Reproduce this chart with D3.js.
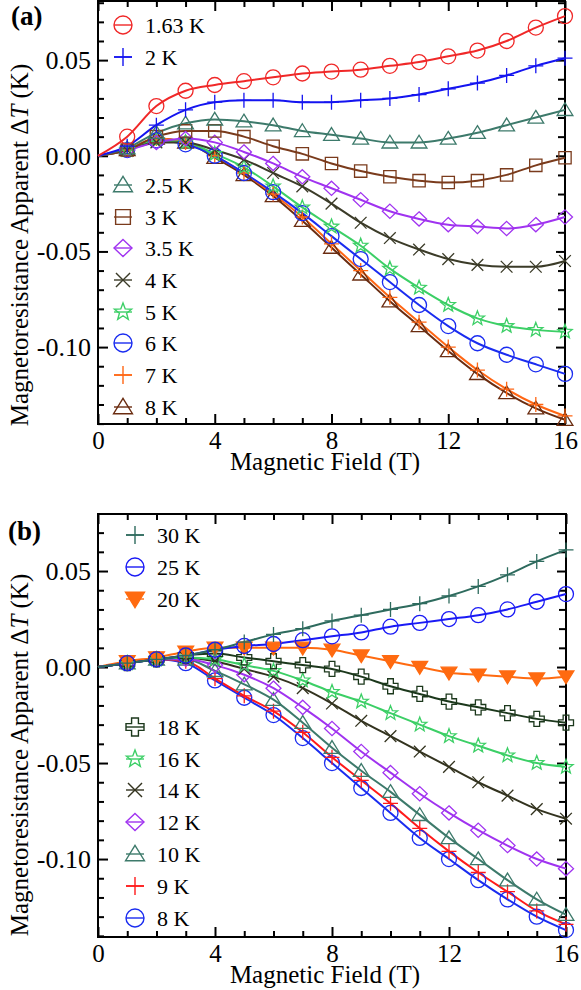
<!DOCTYPE html>
<html><head><meta charset="utf-8">
<script src="https://cdn.jsdelivr.net/npm/d3@7"></script>
<style>body{margin:0;background:#fff}svg{display:block}</style>
</head><body><svg id="c" width="581" height="990"></svg>
<script>
// ---------- DATA ----------
const fieldT = [0,1,2,3,4,5,6,7,8,9,10,11,12,13,14,15,16];
const xTickLabels = [0,4,8,12,16];
const yTickLabels = [-0.10,-0.05,0.00,0.05];

// panel (a)
const topNames = ["1.63 K","2 K","2.5 K","3 K","3.5 K","4 K","5 K","6 K","7 K","8 K"];
const a163K = [0,0.010,0.026,0.034,0.037,0.039,0.041,0.043,0.044,0.045,0.047,0.049,0.052,0.055,0.060,0.067,0.073];
const a2K   = [0,0.005,0.016,0.024,0.028,0.029,0.029,0.028,0.028,0.029,0.030,0.032,0.035,0.038,0.042,0.047,0.051];
const a25K  = [0,0.004,0.012,0.017,0.019,0.018,0.016,0.013,0.011,0.009,0.007,0.007,0.009,0.012,0.016,0.020,0.024];
const a3K   = [0,0.003,0.010,0.013,0.013,0.010,0.005,0.001,-0.004,-0.008,-0.011,-0.013,-0.014,-0.013,-0.010,-0.005,-0.001];
const a35K  = [0,0.003,0.007,0.009,0.007,0.002,-0.004,-0.011,-0.017,-0.023,-0.029,-0.033,-0.036,-0.037,-0.038,-0.036,-0.032];
const a4K   = [0,0.003,0.007,0.007,0.003,-0.002,-0.009,-0.016,-0.025,-0.035,-0.043,-0.049,-0.054,-0.057,-0.058,-0.058,-0.055];
const a5K   = [0,0.003,0.008,0.007,0.001,-0.006,-0.016,-0.027,-0.037,-0.047,-0.059,-0.069,-0.078,-0.085,-0.089,-0.091,-0.092];
const a6K   = [0,0.003,0.008,0.006,0.000,-0.009,-0.019,-0.030,-0.042,-0.054,-0.066,-0.078,-0.089,-0.098,-0.104,-0.109,-0.114];
const a7K   = [0,0.003,0.009,0.007,0.000,-0.009,-0.020,-0.032,-0.046,-0.060,-0.074,-0.087,-0.100,-0.112,-0.122,-0.130,-0.136];
const a8K   = [0,0.003,0.009,0.007,-0.001,-0.010,-0.021,-0.034,-0.048,-0.062,-0.076,-0.089,-0.102,-0.114,-0.124,-0.132,-0.138];

// panel (b)
const botNames = ["30 K","25 K","20 K","18 K","16 K","14 K","12 K","10 K","9 K","8 K"];
const b30K = [0,0.002,0.004,0.006,0.009,0.013,0.017,0.020,0.024,0.027,0.030,0.033,0.037,0.042,0.048,0.055,0.061];
const b25K = [0,0.002,0.004,0.006,0.009,0.011,0.012,0.014,0.016,0.018,0.021,0.023,0.025,0.027,0.030,0.034,0.038];
const b20K = [0,0.003,0.005,0.008,0.010,0.010,0.010,0.010,0.009,0.006,0.003,0.000,-0.003,-0.004,-0.005,-0.006,-0.005];
const b18K = [0,0.002,0.004,0.006,0.007,0.005,0.003,0.001,-0.001,-0.005,-0.010,-0.014,-0.018,-0.021,-0.024,-0.027,-0.029];
const b16K = [0,0.002,0.004,0.005,0.004,0.001,-0.002,-0.007,-0.013,-0.018,-0.024,-0.030,-0.036,-0.041,-0.046,-0.050,-0.052];
const b14K = [0,0.002,0.004,0.005,0.003,-0.001,-0.005,-0.011,-0.019,-0.028,-0.036,-0.044,-0.052,-0.060,-0.067,-0.074,-0.079];
const b12K = [0,0.002,0.004,0.004,0.001,-0.004,-0.011,-0.021,-0.032,-0.044,-0.055,-0.066,-0.076,-0.085,-0.093,-0.100,-0.105];
const b10K = [0,0.002,0.004,0.004,-0.002,-0.009,-0.017,-0.029,-0.042,-0.054,-0.065,-0.077,-0.089,-0.100,-0.111,-0.121,-0.129];
const b9K  = [0,0.002,0.004,0.003,-0.006,-0.015,-0.023,-0.034,-0.047,-0.059,-0.071,-0.084,-0.096,-0.107,-0.117,-0.127,-0.134];
const b8K  = [0,0.002,0.004,0.002,-0.007,-0.016,-0.025,-0.037,-0.050,-0.063,-0.076,-0.089,-0.100,-0.111,-0.121,-0.130,-0.137];

// ---------- STYLE ----------
const FONT = "'Liberation Serif','Times New Roman',serif";
const topStyle = [
  {c:"#f02828", m:"circle"},   {c:"#1414f0", m:"plus"},
  {c:"#3d7a6b", m:"triangle"}, {c:"#7a3b1c", m:"square"},
  {c:"#a033f0", m:"diamond"},  {c:"#3b3b28", m:"times"},
  {c:"#3ccf66", m:"star"},     {c:"#1a2cf0", m:"circle"},
  {c:"#ff6614", m:"plus"},     {c:"#6a2c10", m:"triangle"}
];
const botStyle = [
  {c:"#2e6b5e", m:"plus"},     {c:"#1a1af5", m:"circle"},
  {c:"#ff6a10", m:"tridown"},  {c:"#1c381c", m:"crossout"},
  {c:"#3ccf66", m:"star"},     {c:"#33331f", m:"times"},
  {c:"#a033f0", m:"diamond"},  {c:"#3d7a6b", m:"triangle"},
  {c:"#ff1a1a", m:"plus"},     {c:"#1a2cf0", m:"circle"}
];

function markerPath(type, s) {
  switch(type) {
    case "circle": return `M${-s},0A${s},${s} 0 1,0 ${s},0A${s},${s} 0 1,0 ${-s},0Z`;
    case "plus": return `M${-s},0H${s}M0,${-s}V${s}`;
    case "times": { const k=s*0.78; return `M${-k},${-k}L${k},${k}M${-k},${k}L${k},${-k}`; }
    case "triangle": return `M0,${-s*0.95}L${s*1.05},${s*0.75}L${-s*1.05},${s*0.75}Z`;
    case "tridown": return `M0,${s*0.95}L${s*1.05},${-s*0.75}L${-s*1.05},${-s*0.75}Z`;
    case "square": { const k=s*0.82; return `M${-k},${-k}H${k}V${k}H${-k}Z`; }
    case "diamond": return `M0,${-s*0.95}L${s},0L0,${s*0.95}L${-s},0Z`;
    case "star": {
      let p=""; for(let i=0;i<10;i++){const r=i%2?s*0.42:s; const a=-Math.PI/2+i*Math.PI/5;
        p+=(i?"L":"M")+(r*Math.cos(a)).toFixed(2)+","+(r*Math.sin(a)).toFixed(2);} return p+"Z"; }
    case "crossout": { const w=s*0.38;
      return `M${-w},${-s}H${w}V${-w}H${s}V${w}H${w}V${s}H${-w}V${w}H${-s}V${-w}H${-w}Z`; }
  }
}

const svg = d3.select("#c");
const fmt = v => (v<0?"-":"") + Math.abs(v).toFixed(2);

function drawPanel(p) {
  const g = svg.append("g");
  const x = d3.scaleLinear().domain([0,16]).range([p.left, p.right]);
  const y = d3.scaleLinear().domain(p.yDomain).range([p.bottom, p.top]);
  const xMinor = fieldT.filter(v => !xTickLabels.includes(v));
  const yAll = [];
  for (let i=-14;i<=8;i++) { const v=i/100; if (v>=p.yDomain[0] && v<=p.yDomain[1]) yAll.push(v); }
  const yMinor = yAll.filter(v => !yTickLabels.some(t => Math.abs(t-v)<1e-9));
  const yMajor = yTickLabels;

  const styleAxis = (sel, fs) => { sel.attr("font-family", FONT).attr("font-size", fs || 26);
    sel.select(".domain").remove();
    sel.selectAll(".tick line").attr("stroke","#000").attr("stroke-width",2);
    sel.selectAll("text").attr("fill","#000"); };

  // bottom
  g.append("g").attr("transform",`translate(0,${p.bottom})`)
    .call(d3.axisBottom(x).tickValues(xTickLabels).tickSize(-10).tickPadding(7).tickFormat(d3.format("d"))).call(styleAxis, 25);
  g.append("g").attr("transform",`translate(0,${p.bottom})`)
    .call(d3.axisBottom(x).tickValues(xMinor).tickSize(-6).tickFormat("")).call(styleAxis);
  // top
  g.append("g").attr("transform",`translate(0,${p.top})`)
    .call(d3.axisTop(x).tickValues(xTickLabels).tickSize(-10).tickFormat("")).call(styleAxis);
  g.append("g").attr("transform",`translate(0,${p.top})`)
    .call(d3.axisTop(x).tickValues(xMinor).tickSize(-6).tickFormat("")).call(styleAxis);
  // left
  g.append("g").attr("transform",`translate(${p.left},0)`)
    .call(d3.axisLeft(y).tickValues(yMajor).tickSize(-10).tickPadding(7).tickFormat(fmt)).call(styleAxis, 26);
  g.append("g").attr("transform",`translate(${p.left},0)`)
    .call(d3.axisLeft(y).tickValues(yMinor).tickSize(-6).tickFormat("")).call(styleAxis);
  // right
  g.append("g").attr("transform",`translate(${p.right},0)`)
    .call(d3.axisRight(y).tickValues(yMajor).tickSize(-9).tickFormat("")).call(styleAxis);
  g.append("g").attr("transform",`translate(${p.right},0)`)
    .call(d3.axisRight(y).tickValues(yMinor).tickSize(-7).tickFormat("")).call(styleAxis);

  // frame
  g.append("rect").attr("x",p.left).attr("y",p.top).attr("width",p.right-p.left).attr("height",p.bottom-p.top)
    .attr("fill","none").attr("stroke","#000").attr("stroke-width",2);

  // series
  const line = d3.line().x((d,i)=>x(fieldT[i])).y(d=>y(d)).curve(d3.curveMonotoneX);
  const order = d3.range(p.series.length).reverse();
  order.forEach(k => {
    const s = p.series[k], st = p.styles[k];
    g.append("path").attr("d", line(s)).attr("fill","none").attr("stroke",st.c).attr("stroke-width",2);
  });
  order.forEach(k => {
    const s = p.series[k], st = p.styles[k];
    const filled = st.m==="tridown";
    g.selectAll(null).data(s.slice(1)).join("path")
      .attr("transform",(d,i)=>`translate(${x(fieldT[i+1])},${y(d)})`)
      .attr("d", markerPath(st.m, 7.5))
      .attr("fill", filled ? st.c : "none").attr("stroke", st.c).attr("stroke-width",1.3);
  });

  // legend
  p.legendRows.forEach((ly,k) => {
    const st = p.styles[k];
    const lg = g.append("g").attr("transform",`translate(${p.legX},${ly})`);
    lg.append("path").attr("d", markerPath(st.m, 9))
      .attr("fill", st.m==="tridown" ? st.c : "none").attr("stroke",st.c).attr("stroke-width",1.4);
    lg.append("path").attr("d","M-9,0H9").attr("stroke",st.c).attr("stroke-width",1.4);
    lg.append("text").attr("x",p.legTextX-p.legX).attr("dy","0.35em").attr("font-family",FONT)
      .attr("font-size",22).attr("fill","#000").text(p.names[k]);
  });

  // panel label
  g.append("text").attr("x",p.labX).attr("y",p.labY).attr("font-family",FONT).attr("font-size",27)
    .attr("font-weight","bold").text(p.tag);
  // y title
  const yt = g.append("text").attr("transform",`translate(28,${p.yTitleY}) rotate(-90)`)
    .attr("text-anchor","middle").attr("font-family",FONT).attr("font-size",25);
  yt.append("tspan").text("Magnetoresistance Apparent \u0394");
  yt.append("tspan").attr("font-style","italic").text("T");
  yt.append("tspan").text(" (K)");
  // x title
  g.append("text").attr("x",325).attr("y",p.bottom+46).attr("text-anchor","middle")
    .attr("font-family",FONT).attr("font-size",25).text("Magnetic Field (T)");
}

const topRows = [25,57,185,217,248,280,312,343,375,407];
const botRows = [535,567,599,727,759,790,822,854,886,918];

drawPanel({left:98,right:565,top:1,bottom:424,yDomain:[-0.1402,0.0809],
  series:[a163K,a2K,a25K,a3K,a35K,a4K,a5K,a6K,a7K,a8K], styles:topStyle, names:topNames,
  legendRows:topRows, legX:123, legTextX:145, tag:"(a)", labX:11, labY:25, yTitleY:245});
drawPanel({left:98,right:566,top:514,bottom:937,yDomain:[-0.1406,0.0797],
  series:[b30K,b25K,b20K,b18K,b16K,b14K,b12K,b10K,b9K,b8K], styles:botStyle, names:botNames,
  legendRows:botRows, legX:135, legTextX:157, tag:"(b)", labX:8, labY:540, yTitleY:755});
</script>
</body></html>
